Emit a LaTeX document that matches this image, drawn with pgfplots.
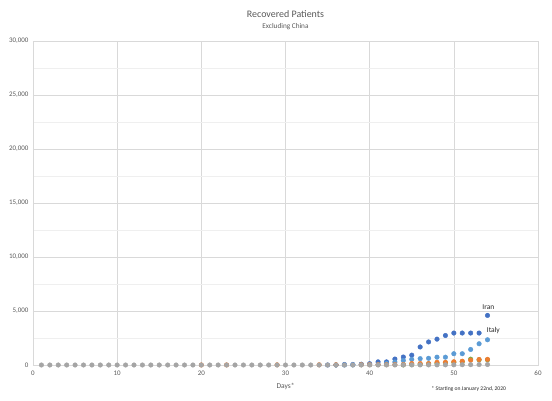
\documentclass[border=0pt]{standalone}
\usepackage{pgfplots}
\pgfplotsset{compat=1.18}
\usepackage{fontspec}
\setmainfont{Carlito}
\definecolor{txt}{HTML}{595959}
\definecolor{gridc}{HTML}{D9D9D9}
\definecolor{minorc}{HTML}{EFEFEF}
\definecolor{iran}{HTML}{4472C4}
\definecolor{italy}{HTML}{5B9BD5}
\definecolor{sgreen}{HTML}{70AD47}
\definecolor{sorange}{HTML}{ED7D31}
\definecolor{sgrey}{HTML}{A5A5A5}

\begin{document}
\begin{tikzpicture}
\useasboundingbox (-33bp,-36bp) rectangle (519bp,365bp);
\begin{axis}[
  scale only axis, width=505bp, height=324bp,
  xmin=0, xmax=60, ymin=0, ymax=30000,
  xtick={0,10,...,60}, ytick={0,5000,...,30000},
  minor ytick={2500,7500,...,27500},
  grid=both,
  major grid style={gridc, line width=0.6pt},
  minor grid style={minorc, line width=0.6pt},
  axis line style={gridc, line width=0.6pt},
  tick style={draw=none},
  ticklabel style={font=\fontsize{7}{8}\selectfont, text=txt},
  xticklabel style={yshift=-2bp},
  yticklabel style={xshift=-1bp},
  /pgf/number format/assume math mode=true,
  /pgf/number format/1000 sep={,},
  scaled y ticks=false,
  xlabel={Days*},
  xlabel style={font=\fontsize{7.5}{8}\selectfont, text=txt, at={(axis description cs:0.5,0)}, anchor=center, yshift=-21bp},
  every axis plot/.append style={only marks, mark=*, mark size=2.3bp},
  clip=false,
]
% Iran
\addplot[iran, mark options={draw=iran, fill=iran}] table {
x y
35 2
36 2
37 49
38 49
39 73
40 123
41 291
42 291
43 552
44 739
45 913
46 1669
47 2134
48 2394
49 2731
50 2959
51 2959
52 2959
53 2959
54 4590
};
% Italy
\addplot[italy, mark options={draw=italy, fill=italy}] table {
x y
36 1
37 1
38 3
39 46
40 46
41 50
42 160
43 276
44 414
45 523
46 589
47 622
48 724
49 724
50 1045
51 1045
52 1439
53 1966
54 2335
};
% green series
\addplot[sgreen, mark options={draw=sgreen, fill=sgreen}] table {
x y
44 10
45 30
46 60
47 100
48 150
49 200
50 250
51 300
52 540
53 480
54 480
};
% orange series
\addplot[sorange, mark options={draw=sorange, fill=sorange}] table {
x y
20 3
23 7
29 16
34 18
36 22
39 27
40 30
41 30
42 30
43 41
44 41
45 135
46 135
47 135
48 247
49 250
50 300
51 350
52 450
53 510
54 520
};
% grey series
\addplot[sgrey, mark options={draw=sgrey, fill=sgrey}] table {
x y
1 0
2 0
3 0
4 0
5 0
6 0
7 0
8 0
9 0
10 0
11 0
12 0
13 0
14 0
15 0
16 0
17 0
18 0
19 0
20 0
21 0
22 0
23 0
24 0
25 0
26 0
27 0
28 0
29 0
30 0
31 0
32 0
33 0
34 0
35 0
36 0
37 0
38 0
39 1
40 2
41 2
42 3
43 3
44 4
45 5
46 6
47 8
48 10
49 14
50 18
51 25
52 30
53 40
54 46
};
\node[font=\fontsize{7.5}{8}\selectfont, text=black!85] at (axis cs:54.1,5370) {Iran};
\node[font=\fontsize{7.5}{8}\selectfont, text=black!85] at (axis cs:54.7,3150) {Italy};
\node[font=\fontsize{10}{11}\selectfont, text=txt] at (axis description cs:0.5,1) [yshift=27bp] {Recovered Patients};
\node[font=\fontsize{7.3}{8}\selectfont, text=txt] at (axis description cs:0.5,1) [yshift=14bp] {Excluding China};
\node[font=\fontsize{5.6}{6}\selectfont, text=black!85] at (axis description cs:0.863,0) [yshift=-24bp] {* Starting on January 22nd, 2020};
\end{axis}
\end{tikzpicture}
\end{document}
